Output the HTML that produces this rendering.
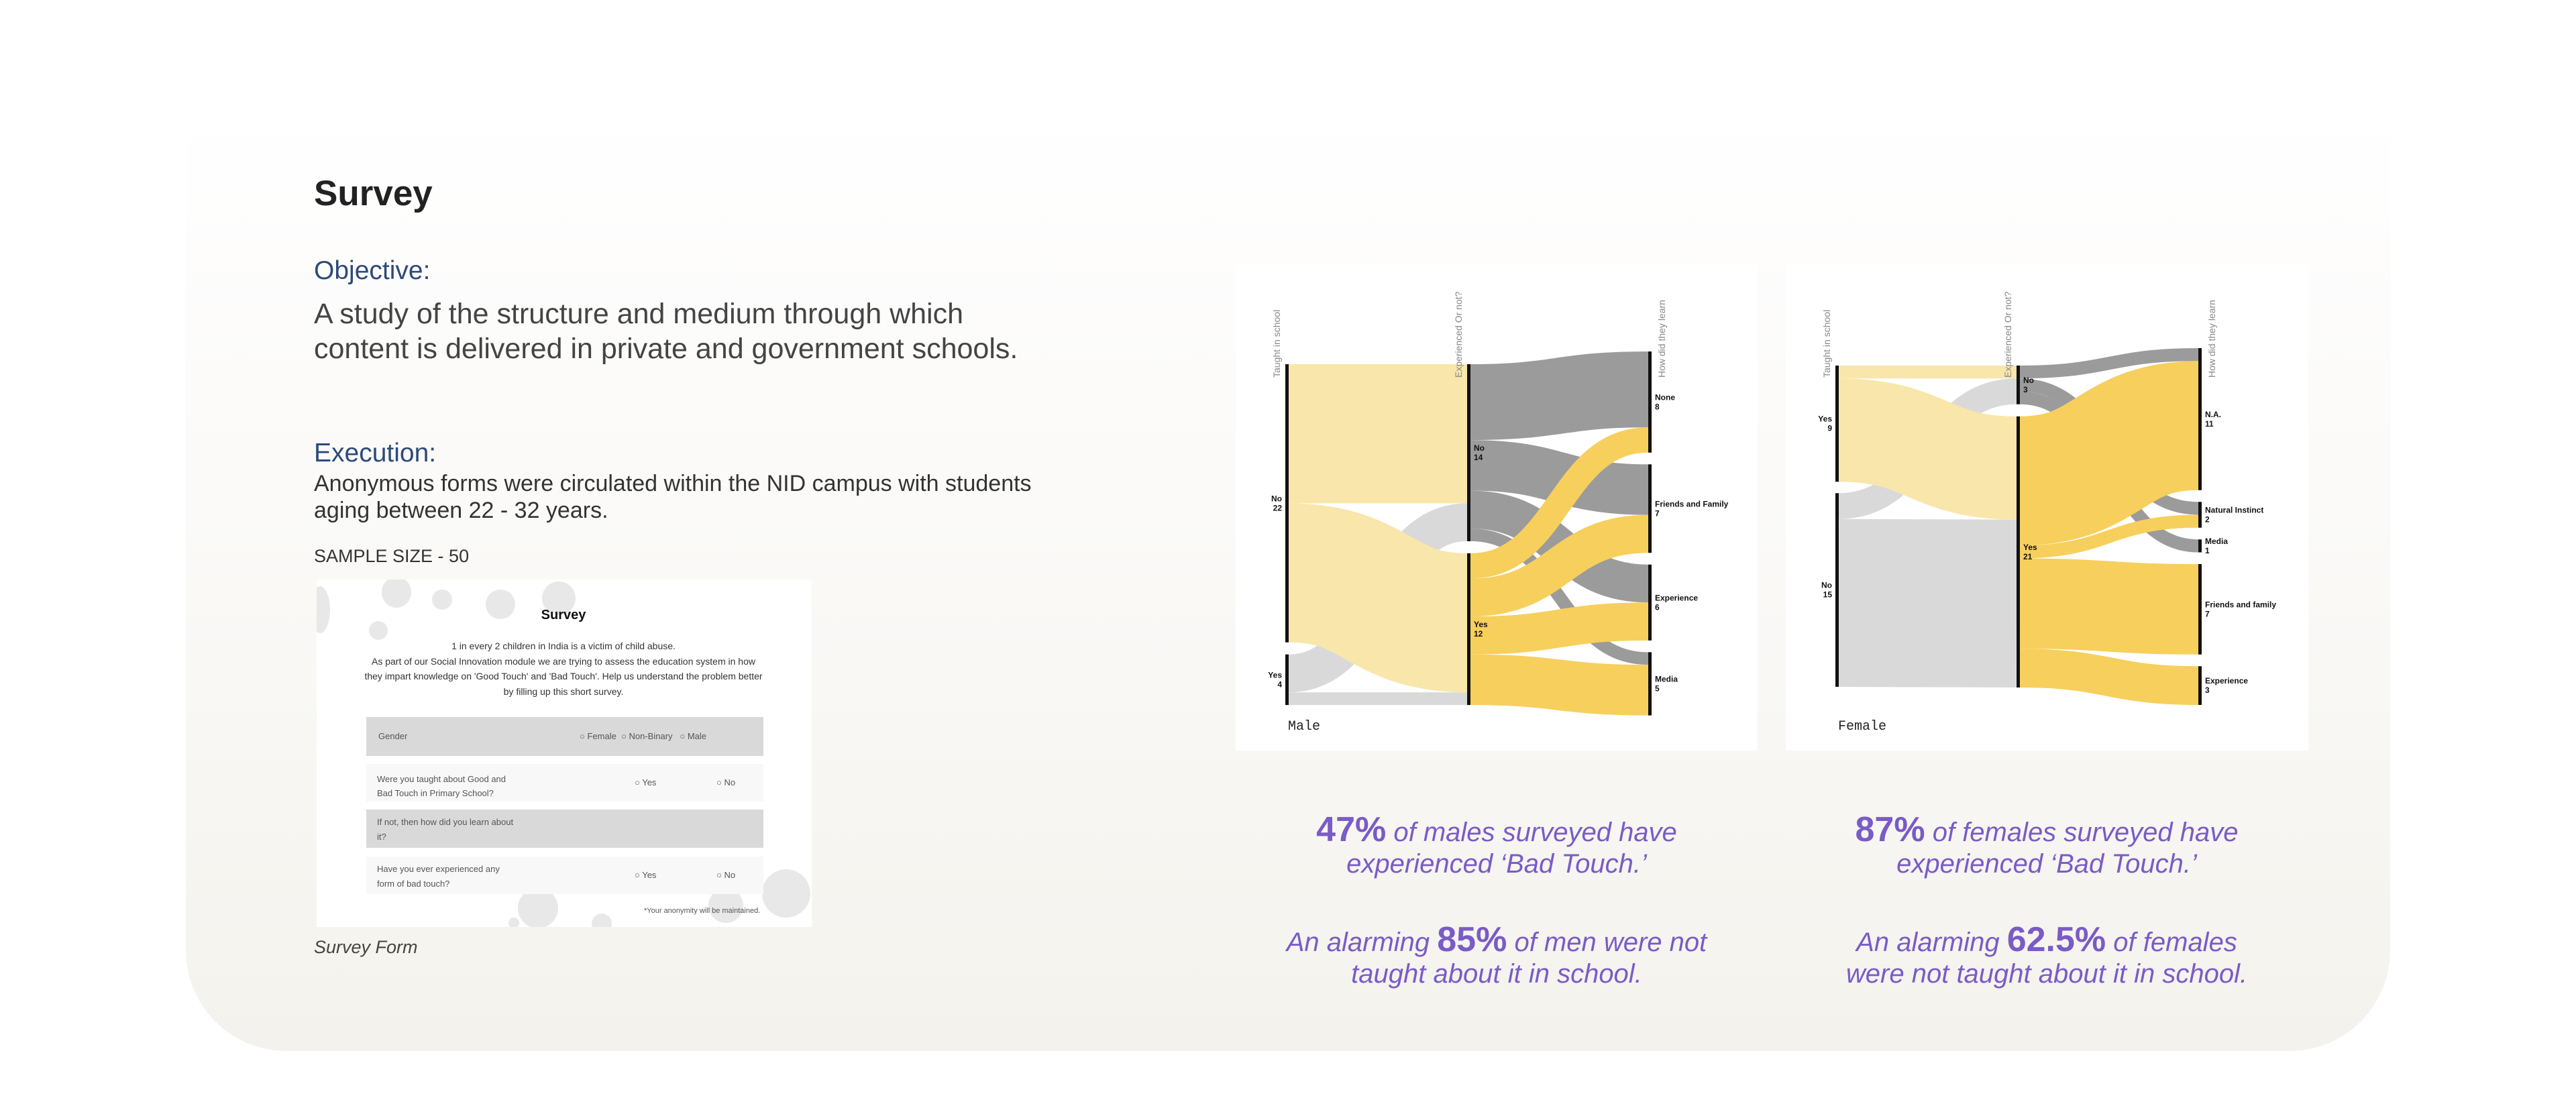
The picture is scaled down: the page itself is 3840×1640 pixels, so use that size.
<!DOCTYPE html>
<html><head><meta charset="utf-8"><style>
html,body{margin:0;padding:0;width:3840px;height:1640px;overflow:hidden;background:#fff;font-family:"Liberation Sans",sans-serif;}
.abs{position:absolute;}
#card{left:277px;top:160px;width:3286px;height:1407px;border-radius:0 0 150px 150px;background:linear-gradient(180deg,#ffffff 0%,#fcfbfa 30%,#f9f8f5 60%,#f4f2ed 100%);}
.panel{background:#fff;}
.stat{color:#7a5bc7;font-size:40px;font-style:italic;text-align:center;width:800px;line-height:47px;font-family:"Liberation Sans Narrow","Liberation Sans",sans-serif;}
.stat b{font-style:normal;font-size:52px;font-weight:bold;}
.row{position:absolute;left:546px;width:592px;font-size:13px;color:#555;}
.circ{position:absolute;border-radius:50%;background:#e8e8e8;}
</style></head><body>
<div id="card" class="abs"></div>

<div class="abs" style="left:468px;top:258px;font-size:53px;font-weight:bold;color:#222;">Survey</div>
<div class="abs" style="left:468px;top:382px;font-size:39px;color:#2d4a7a;">Objective:</div>
<div class="abs" style="left:468px;top:442px;font-size:43px;line-height:52px;color:#444;width:1300px;">A study of the structure and medium through which<br>content is delivered in private and government schools.</div>
<div class="abs" style="left:468px;top:654px;font-size:39px;color:#2d4a7a;">Execution:</div>
<div class="abs" style="left:468px;top:701px;font-size:34px;line-height:40px;color:#333;width:1300px;">Anonymous forms were circulated within the NID campus with students<br>aging between 22 - 32 years.</div>
<div class="abs" style="left:468px;top:814px;font-size:27px;color:#333;">SAMPLE SIZE - 50</div>

<div class="abs panel" style="left:472px;top:864px;width:738px;height:518px;overflow:hidden;">
  <div class="circ" style="left:97px;top:-4px;width:44px;height:46px;"></div>
  <div class="circ" style="left:172px;top:15px;width:30px;height:30px;"></div>
  <div class="circ" style="left:252px;top:15px;width:44px;height:44px;"></div>
  <div class="circ" style="left:336px;top:3px;width:50px;height:50px;"></div>
  <div class="circ" style="left:78px;top:62px;width:28px;height:28px;"></div>
  <div class="circ" style="left:-10px;top:10px;width:30px;height:70px;"></div>
  <div class="circ" style="left:300px;top:460px;width:60px;height:60px;"></div>
  <div class="circ" style="left:584px;top:460px;width:52px;height:52px;"></div>
  <div class="circ" style="left:664px;top:432px;width:72px;height:72px;"></div>
  <div class="circ" style="left:286px;top:504px;width:16px;height:16px;"></div>
  <div class="circ" style="left:410px;top:498px;width:30px;height:30px;"></div>
</div>
<div class="abs" style="left:740px;top:906px;width:200px;text-align:center;font-size:20px;font-weight:bold;color:#111;">Survey</div>
<div class="abs" style="left:540px;top:952px;width:600px;text-align:center;font-size:14px;line-height:22.5px;color:#333;">1 in every 2 children in India is a victim of child abuse.<br>As part of our Social Innovation module we are trying to assess the education system in how they impart knowledge on 'Good Touch' and 'Bad Touch'. Help us understand the problem better by filling up this short survey.</div>
<div class="row" style="top:1069px;height:58px;background:#d9d9d9;"><span style="position:absolute;left:18px;top:21px;">Gender</span><span style="position:absolute;left:318px;top:21px;">○ Female &nbsp;○ Non-Binary &nbsp;&nbsp;○ Male</span></div>
<div class="row" style="top:1139px;height:56px;background:#f8f8f8;"><span style="position:absolute;left:16px;top:12px;line-height:21px;">Were you taught about Good and<br>Bad Touch in Primary School?</span><span style="position:absolute;left:400px;top:20px;">○ Yes</span><span style="position:absolute;left:522px;top:20px;">○ No</span></div>
<div class="row" style="top:1207px;height:57px;background:#d9d9d9;"><span style="position:absolute;left:16px;top:8px;line-height:22px;">If not, then how did you learn about<br>it?</span></div>
<div class="row" style="top:1277px;height:56px;background:#f8f8f8;"><span style="position:absolute;left:16px;top:8px;line-height:22px;">Have you ever experienced any<br>form of bad touch?</span><span style="position:absolute;left:400px;top:20px;">○ Yes</span><span style="position:absolute;left:522px;top:20px;">○ No</span></div>
<div class="abs" style="left:960px;top:1352px;font-size:11px;color:#555;">*Your anonymity will be maintained.</div>
<div class="abs" style="left:468px;top:1397px;font-size:27px;font-style:italic;color:#444;">Survey Form</div>

<div class="abs panel" style="left:1842px;top:394px;width:778px;height:725px;"></div>
<div class="abs panel" style="left:2662px;top:394px;width:779px;height:725px;"></div>

<div class="abs stat" style="left:1831px;top:1214px;"><b>47%</b> of males surveyed have<br>experienced ‘Bad Touch.’</div>
<div class="abs stat" style="left:1831px;top:1378px;">An alarming <b>85%</b> of men were not<br>taught about it in school.</div>
<div class="abs stat" style="left:2651px;top:1214px;"><b>87%</b> of females surveyed have<br>experienced ‘Bad Touch.’</div>
<div class="abs stat" style="left:2651px;top:1378px;">An alarming <b>62.5%</b> of females<br>were not taught about it in school.</div>

<svg id="charts" class="abs" style="left:0;top:0;" width="3840" height="1640"></svg>

<script>
// ---- Male data ----
const maleSchool = ["No", "Yes"];
const maleExp = ["No", "Yes"];
const maleHow = ["None", "Friends and Family", "Experience", "Media"];
const maleSchoolToExp = [[11, 11], [3, 1]];
const maleExpToHow = [[6, 4, 3, 1], [2, 3, 3, 4]];
// ---- Female data ----
const femaleSchool = ["Yes", "No"];
const femaleExp = ["No", "Yes"];
const femaleHow = ["N.A.", "Natural Instinct", "Media", "Friends and family", "Experience"];
const femaleSchoolToExp = [[1, 8], [2, 13]];
const femaleExpToHow = [[1, 1, 1, 0, 0], [10, 1, 0, 7, 3]];
const titles = ["Taught in school", "Experienced Or not?", "How did they learn"];

const NS = "http://www.w3.org/2000/svg";
const svg = document.getElementById("charts");
function mk(tag, attrs, parent) {
  const e = document.createElementNS(NS, tag);
  for (const k in attrs) e.setAttribute(k, attrs[k]);
  parent.appendChild(e);
  return e;
}
function sum(a) { return a.reduce((s, v) => s + v, 0); }
function colSum(m, j) { return m.reduce((s, r) => s + r[j], 0); }

function drawSankey(cfg) {
  const g = mk("g", {}, svg);
  
  
  const cols = [cfg.school, cfg.exp, cfg.how];
  const vals = [
    cfg.school.map((_, i) => sum(cfg.a[i])),
    cfg.exp.map((_, j) => Math.max(colSum(cfg.a, j), sum(cfg.b[j]))),
    cfg.how.map((_, k) => colSum(cfg.b, k))
  ];
  const pos = cols.map((names, c) => {
    let y = cfg.tops[c];
    return names.map((n, i) => { const y0 = y; const h = vals[c][i] * cfg.k; y += h + cfg.gaps[c]; return { y0: y0, h: h }; });
  });
  const bw = 5;
  const linkG = mk("g", {}, g);
  const linkList = [];
  function addLinks(m, c, colorFn) {
    const srcOff = pos[c].map(p => p.y0);
    const tgtOff = pos[c + 1].map(p => p.y0);
    const x0 = cfg.xs[c] + bw, x1 = cfg.xs[c + 1];
    for (let i = 0; i < m.length; i++) {
      for (let j = 0; j < m[i].length; j++) {
        const v = m[i][j]; if (!v) continue;
        const w = v * cfg.k;
        const ys = srcOff[i] + w / 2; srcOff[i] += w;
        linkList.push({ i: i, j: j, c: c, v: v, w: w, x0: x0, x1: x1, ys: ys, yt: 0, color: colorFn(i) });
      }
    }
    for (let j = 0; j < cols[c + 1].length; j++) {
      for (let i = 0; i < m.length; i++) {
        const L = linkList.find(l => l.c === c && l.i === i && l.j === j);
        if (L) { L.yt = tgtOff[j] + L.w / 2; tgtOff[j] += L.w; }
      }
    }
  }
  addLinks(cfg.a, 0, i => cfg.schoolColors[i]);
  addLinks(cfg.b, 1, i => cfg.expColors[i]);
  const order = cfg.drawOrder;
  linkList.slice().sort((p, q) => order.indexOf(p.color) - order.indexOf(q.color)).forEach(L => {
    const xm = (L.x0 + L.x1) / 2;
    const p = mk("path", { d: `M${L.x0},${L.ys} C${xm},${L.ys} ${xm},${L.yt} ${L.x1},${L.yt}`, fill: "none", stroke: L.color, "stroke-width": L.w }, linkG);
    
    
  });
  cols.forEach((names, c) => {
    names.forEach((n, i) => {
      const p = pos[c][i];
      const r = mk("rect", { x: cfg.xs[c], y: p.y0, width: bw, height: p.h, fill: "#111" }, g);
      
      
      const cy = p.y0 + p.h / 2;
      const left = c === 0;
      const tx = left ? cfg.xs[c] - 5 : cfg.xs[c] + bw + 5;
      const t = mk("text", { x: tx, y: cy - 3, "font-size": 12, "font-weight": "bold", fill: "#111", "text-anchor": left ? "end" : "start" }, g);
      t.textContent = n;
      
      
      const t2 = mk("text", { x: tx, y: cy + 11, "font-size": 12, "font-weight": "bold", fill: "#111", "text-anchor": left ? "end" : "start" }, g);
      t2.textContent = vals[c][i];
      
      
    });
    const ax = c === 2 ? cfg.xs[c] + 25 : cfg.xs[c] - 8;
    const at = mk("text", { transform: `translate(${ax},${cfg.titleY}) rotate(-90)`, "font-size": 14, fill: "#888", "text-anchor": "start" }, g);
    at.textContent = titles[c];
    
    
  });
  const gl = mk("text", { x: cfg.xs[0] + 4, y: cfg.labelY, "font-size": 20, "font-family": "Liberation Mono, monospace", fill: "#222" }, g);
  gl.textContent = cfg.label;
  
  
}

const LY = "#f9e6ab", LG = "#d9d9d9", DG = "#9b9b9b", DY = "#f7cf5c";
drawSankey({
  name: "male-sankey", label: "Male", school: maleSchool, exp: maleExp, how: maleHow,
  a: maleSchoolToExp, b: maleExpToHow, xs: [1916, 2187, 2457], tops: [543, 543, 524], gaps: [18, 18, 17.5],
  k: 18.85, schoolColors: [LY, LG], expColors: [DG, DY], drawOrder: [LG, LY, DG, DY], titleY: 563, labelY: 1088
});
drawSankey({
  name: "female-sankey", label: "Female", school: femaleSchool, exp: femaleExp, how: femaleHow,
  a: femaleSchoolToExp, b: femaleExpToHow, xs: [2736, 3006, 3277], tops: [545, 545, 519], gaps: [17, 18, 17.5],
  k: 19.25, schoolColors: [LY, LG], expColors: [DG, DY], drawOrder: [LG, LY, DG, DY], titleY: 563, labelY: 1088
});
</script>
</body></html>
